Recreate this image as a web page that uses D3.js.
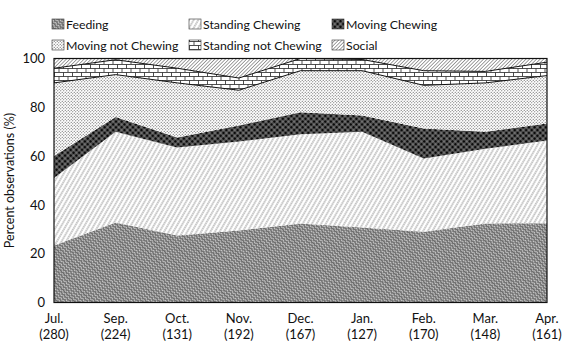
<!DOCTYPE html>
<html>
<head>
<meta charset="utf-8">
<script src="https://cdn.jsdelivr.net/npm/d3@7"></script>
<style>
  body { margin: 0; background: #fff; }
  svg { display: block; font-family: Lato, "Open Sans", sans-serif; }
</style>
</head>
<body>
<div id="chart"></div>
<script>
// months with sample sizes
const months = ["Jul.", "Sep.", "Oct.", "Nov.", "Dec.", "Jan.", "Feb.", "Mar.", "Apr."];
const counts = ["(280)", "(224)", "(131)", "(192)", "(167)", "(127)", "(170)", "(148)", "(161)"];

// percent of observations per behaviour
const feeding          = [23.4, 32.8, 27.5, 29.5, 32.4, 30.7, 29.0, 32.4, 32.5];
const standingChewing  = [27.6, 37.2, 36.0, 36.5, 36.6, 39.3, 30.0, 30.6, 33.9];
const movingChewing    = [ 9.0,  6.0,  4.1,  6.5,  9.0,  6.6, 12.3,  7.0,  7.0];
const movingNotChewing = [30.0, 17.4, 22.4, 14.5, 17.0, 18.4, 17.7, 20.0, 19.6];
const standingNotChew  = [ 6.0,  6.1,  6.0,  5.0,  5.0,  4.6,  6.0,  4.7,  5.5];
const social           = [ 4.0,  0.5,  4.0,  8.0,  0.0,  0.4,  5.0,  5.3,  1.5];

const yTicks = [0, 20, 40, 60, 80, 100];

const keys = ["Feeding", "Standing Chewing", "Moving Chewing", "Moving not Chewing", "Standing not Chewing", "Social"];
const seriesByKey = {
    "Feeding": feeding,
    "Standing Chewing": standingChewing,
    "Moving Chewing": movingChewing,
    "Moving not Chewing": movingNotChewing,
    "Standing not Chewing": standingNotChew,
    "Social": social
};
const patId = {
    "Feeding": "p-feed",
    "Standing Chewing": "p-standchew",
    "Moving Chewing": "p-movechew",
    "Moving not Chewing": "p-movenot",
    "Standing not Chewing": "p-standnot",
    "Social": "p-social"
};

const rows = months.map((m, i) => {
    const r = { month: m };
    keys.forEach(k => r[k] = seriesByKey[k][i]);
    return r;
});

const width = 575, height = 347;
const plotLeft = 54, plotRight = 547, plotTop = 58.5, plotBottom = 302.5;

const svg = d3.select("#chart")
    .append("svg")
    .attr("width", width)
    .attr("height", height);

const defs = svg.append("defs");

function pattern(id, w, h, rot) {
    const p = defs.append("pattern")
        .attr("id", id)
        .attr("patternUnits", "userSpaceOnUse")
        .attr("width", w)
        .attr("height", h);
    if (rot) p.attr("patternTransform", `rotate(${rot})`);
    return p;
}

// feeding: dense dark zigzag
let p = pattern("p-feed", 4, 3, 45);
p.append("rect").attr("width", 4).attr("height", 3).attr("fill", "#c8c8c8");
p.append("path").attr("d", "M-1,0.5 L0,2.5 L2,0.5 L4,2.5 L5,0.5")
    .attr("fill", "none").attr("stroke", "#111").attr("stroke-width", 1.0);

// standing chewing: light dashed diagonal hatch
p = pattern("p-standchew", 4, 4, 30);
p.append("rect").attr("width", 4).attr("height", 4).attr("fill", "#fff");
p.append("line").attr("x1", 2).attr("y1", 0).attr("x2", 2).attr("y2", 4)
    .attr("stroke", "#555").attr("stroke-width", 0.7).attr("stroke-dasharray", "1.5,0.5");

// moving chewing: black with light lattice
p = pattern("p-movechew", 4, 4, 45);
p.append("rect").attr("width", 4).attr("height", 4).attr("fill", "#0a0a0a");
p.append("path").attr("d", "M0,2 H4 M2,0 V4")
    .attr("stroke", "#aaa").attr("stroke-width", 0.8);

// moving not chewing: stipple
p = pattern("p-movenot", 3, 3);
p.append("rect").attr("width", 3).attr("height", 3).attr("fill", "#fff");
p.append("circle").attr("cx", 0.75).attr("cy", 0.75).attr("r", 0.6).attr("fill", "#555");
p.append("circle").attr("cx", 2.25).attr("cy", 2.25).attr("r", 0.6).attr("fill", "#555");

// standing not chewing: bricks
p = pattern("p-standnot", 9, 8);
p.append("rect").attr("width", 9).attr("height", 8).attr("fill", "#fff");
p.append("path").attr("d", "M0,0.5 H9 M0,4.5 H9 M0.5,0.5 V4.5 M5,4.5 V8.5")
    .attr("fill", "none").attr("stroke", "#222").attr("stroke-width", 0.8);

// social: fine diagonal hatch
p = pattern("p-social", 2.5, 3, 45);
p.append("rect").attr("width", 2.5).attr("height", 3).attr("fill", "#fff");
p.append("line").attr("x1", 1.25).attr("y1", 0).attr("x2", 1.25).attr("y2", 3)
    .attr("stroke", "#444").attr("stroke-width", 0.55);

const x = d3.scalePoint().domain(months).range([plotLeft, plotRight]);
const y = d3.scaleLinear().domain([0, 100]).range([plotBottom, plotTop]);

const stacked = d3.stack().keys(keys)(rows);

const area = d3.area()
    .x(d => x(d.data.month))
    .y0(d => y(d[0]))
    .y1(d => y(d[1]));

const topLine = d3.line()
    .x(d => x(d.data.month))
    .y(d => y(d[1]));

svg.append("g")
    .selectAll("path")
    .data(stacked)
    .join("path")
    .attr("fill", d => `url(#${patId[d.key]})`)
    .attr("d", area);

// darker boundaries around the brick layer
svg.append("g")
    .selectAll("path")
    .data(stacked.filter(s => s.key === "Moving not Chewing" || s.key === "Standing not Chewing"))
    .join("path")
    .attr("fill", "none")
    .attr("stroke", "#111")
    .attr("stroke-width", 1)
    .attr("d", topLine);

// frame
svg.append("rect")
    .attr("x", plotLeft).attr("y", plotTop)
    .attr("width", plotRight - plotLeft).attr("height", plotBottom - plotTop)
    .attr("fill", "none").attr("stroke", "#111").attr("stroke-width", 1.2);

// y axis
const yAxis = svg.append("g")
    .attr("transform", `translate(${plotLeft},0)`)
    .call(d3.axisLeft(y).tickValues(yTicks).tickSize(0).tickPadding(9));
yAxis.select(".domain").remove();
yAxis.selectAll("text").attr("font-size", 13).attr("fill", "#111").attr("font-family", "Lato, sans-serif");

svg.append("text")
    .attr("transform", `translate(14,${(plotTop + plotBottom) / 2}) rotate(-90)`)
    .attr("text-anchor", "middle")
    .attr("font-size", 12.5)
    .attr("fill", "#111")
    .text("Percent observations (%)");

// x labels, two lines each
const xl = svg.append("g")
    .selectAll("text")
    .data(months)
    .join("text")
    .attr("text-anchor", "middle")
    .attr("font-size", 13)
    .attr("fill", "#111");
xl.append("tspan").attr("x", d => x(d)).attr("y", 323).text(d => d);
xl.append("tspan").attr("x", d => x(d)).attr("y", 339).text((d, i) => counts[i]);

// legend
const legendCols = [52, 189, 332];
const legendRows = [24, 45];
const legend = svg.append("g")
    .selectAll("g")
    .data(keys)
    .join("g")
    .attr("transform", (d, i) => `translate(${legendCols[i % 3]},${legendRows[Math.floor(i / 3)]})`);
legend.append("rect")
    .attr("x", 0).attr("y", -5)
    .attr("width", 12).attr("height", 10)
    .attr("fill", d => `url(#${patId[d]})`)
    .attr("stroke", "#333").attr("stroke-width", 0.6);
legend.append("text")
    .attr("x", 14).attr("y", 4.5)
    .attr("font-size", 12.3)
    .attr("fill", "#111")
    .text(d => d);
</script>
</body>
</html>
